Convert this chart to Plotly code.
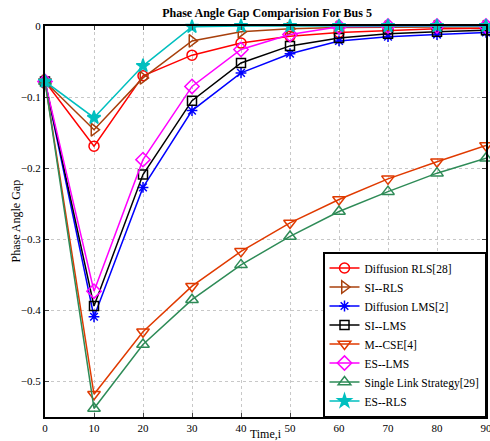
import plotly.graph_objects as go

time_i = [0, 10, 20, 30, 40, 50, 60, 70, 80, 90]

diffusion_rls = [-0.078, -0.169, -0.070, -0.041, -0.024, -0.0145, -0.009, -0.006, -0.004, -0.003]
si_rls = [-0.078, -0.146, -0.073, -0.021, -0.008, -0.004, -0.002, -0.0015, -0.001, -0.001]
diffusion_lms = [-0.078, -0.409, -0.227, -0.119, -0.066, -0.039, -0.021, -0.015, -0.012, -0.009]
si_lms = [-0.078, -0.394, -0.209, -0.105, -0.052, -0.028, -0.017, -0.011, -0.008, -0.006]
m_cse = [-0.078, -0.518, -0.430, -0.366, -0.317, -0.277, -0.244, -0.215, -0.191, -0.168]
es_lms = [-0.078, -0.373, -0.188, -0.085, -0.033, -0.012, -0.001, 0.0, 0.0, 0.0]
single_link = [-0.078, -0.538, -0.448, -0.385, -0.336, -0.296, -0.261, -0.233, -0.207, -0.186]
es_rls = [-0.078, -0.129, -0.056, -0.001, 0.0, 0.0, 0.0, 0.0, 0.0, 0.0]

series = [
    ("Diffusion RLS[28]", diffusion_rls, "#ff0000", "circle-open", 10),
    ("SI--RLS", si_rls, "#a8400c", "triangle-right-open", 11),
    ("Diffusion LMS[2]", diffusion_lms, "#0000ff", "asterisk-open", 9),
    ("SI--LMS", si_lms, "#000000", "square-open", 9),
    ("M--CSE[4]", m_cse, "#e03a00", "triangle-down-open", 11),
    ("ES--LMS", es_lms, "#ff00ff", "diamond-open", 11),
    ("Single Link Strategy[29]", single_link, "#2e8b57", "triangle-up-open", 11),
    ("ES--RLS", es_rls, "#00bfbf", "star", 10),
]

fig = go.Figure()
for name, ys, color, sym, size in series:
    fig.add_trace(go.Scatter(
        x=time_i, y=ys, name=name, mode="lines+markers",
        line=dict(color=color, width=1.5),
        marker=dict(symbol=sym, size=size, color=color,
                    line=dict(color=color, width=1.5)),
        cliponaxis=False,
    ))

font_family = "Liberation Serif"
fig.update_layout(
    width=490, height=441,
    margin=dict(l=45, r=4, t=26, b=24),
    paper_bgcolor="white", plot_bgcolor="white",
    font=dict(family=font_family, size=11, color="black"),
    title=dict(text="<b>Phase Angle Gap Comparision For Bus 5</b>",
               x=0.545, xanchor="center", y=0.972, yanchor="middle",
               font=dict(size=12, family=font_family)),
    showlegend=True,
    legend=dict(x=1, xanchor="right", y=0, yanchor="bottom",
                bgcolor="white", bordercolor="black", borderwidth=1.5,
                font=dict(size=11.5, family=font_family),
                tracegroupgap=0, itemwidth=30),
    annotations=[dict(text="Phase Angle Gap", xref="paper", yref="paper",
                      x=-0.068, y=0.5, xanchor="center", yanchor="middle",
                      textangle=-90, showarrow=False,
                      font=dict(size=12, family=font_family))],
)
fig.update_xaxes(
    range=[0, 90], tickvals=time_i, ticks="inside", ticklen=4,
    showline=True, linecolor="black", linewidth=2, mirror="ticks",
    showgrid=True, gridcolor="#c8c8c8", griddash="dot", gridwidth=1,
    zeroline=False, automargin=False, ticklabeloverflow="allow",
    tickfont=dict(size=11, family=font_family),
    title=dict(text="Time,i", standoff=4, font=dict(size=12, family=font_family)),
)
fig.update_yaxes(
    range=[-0.55, 0], tickvals=[0, -0.1, -0.2, -0.3, -0.4, -0.5],
    ticktext=["0", "\u22120.1", "\u22120.2", "\u22120.3", "\u22120.4", "\u22120.5"],
    ticks="inside", ticklen=4,
    showline=True, linecolor="black", linewidth=2, mirror="ticks",
    showgrid=True, gridcolor="#c8c8c8", griddash="dot", gridwidth=1,
    zeroline=False, automargin=False, ticklabeloverflow="allow",
    tickfont=dict(size=11, family=font_family),
)

fig.write_html("out.html")
